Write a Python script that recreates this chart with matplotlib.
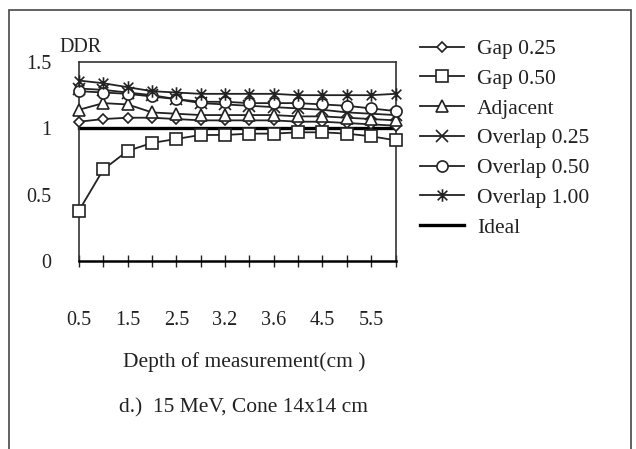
import numpy as np
import matplotlib
matplotlib.use('Agg')
import matplotlib.pyplot as plt
from matplotlib.path import Path
from matplotlib.patches import Rectangle

plt.rcParams['font.family'] = ['Liberation Serif', 'DejaVu Serif']

# depth of measurement (cm), category axis
depths = ["0.5", "1", "1.5", "2", "2.5", "3", "3.2", "3.4", "3.6", "4", "4.5", "5", "5.5", "6"]

gap_025 = [1.05, 1.07, 1.08, 1.08, 1.07, 1.06, 1.06, 1.06, 1.06, 1.05, 1.05, 1.04, 1.03, 1.02]
gap_050 = [0.38, 0.69, 0.83, 0.89, 0.92, 0.95, 0.95, 0.96, 0.96, 0.97, 0.97, 0.96, 0.94, 0.91]
adjacent = [1.14, 1.19, 1.18, 1.12, 1.11, 1.10, 1.10, 1.10, 1.10, 1.09, 1.09, 1.08, 1.07, 1.06]
overlap_025 = [1.30, 1.29, 1.27, 1.25, 1.22, 1.19, 1.18, 1.17, 1.16, 1.15, 1.14, 1.12, 1.11, 1.10]
overlap_050 = [1.28, 1.27, 1.26, 1.24, 1.22, 1.20, 1.20, 1.19, 1.19, 1.19, 1.18, 1.17, 1.15, 1.13]
overlap_100 = [1.36, 1.34, 1.31, 1.28, 1.27, 1.26, 1.26, 1.26, 1.26, 1.25, 1.25, 1.25, 1.25, 1.26]
ideal = [1.0] * len(depths)

# excel style star: x with a vertical bar
star = Path([(-1, -1), (1, 1), (-1, 1), (1, -1), (0, -1.3), (0, 1.3)],
            [Path.MOVETO, Path.LINETO, Path.MOVETO, Path.LINETO, Path.MOVETO, Path.LINETO])

series = [
    ("Gap 0.25", gap_025, 'D', 5.5),
    ("Gap 0.50", gap_050, 's', 8),
    ("Adjacent", adjacent, '^', 8),
    ("Overlap 0.25", overlap_025, 'x', 8),
    ("Overlap 0.50", overlap_050, 'o', 8),
    ("Overlap 1.00", overlap_100, star, 9),
]

ink = '#222222'
fs = 15.5

fig = plt.figure(figsize=(6.36, 4.49), dpi=100)
ax = fig.add_axes([79 / 636, 1 - 261 / 449, (395.5 - 79) / 636, (261 - 62) / 449])

x = np.arange(len(depths))
for label, vals, m, ms in series:
    ax.plot(x, vals, color=ink, lw=1.3, marker=m, ms=ms, mfc='white',
            mec=ink, mew=1.2, label=label, clip_on=False, zorder=3)
ax.plot(x, ideal, color='black', lw=2.4, label="Ideal", clip_on=False, zorder=2)

ax.set_xlim(0, len(depths) - 1)
ax.set_ylim(0, 1.5)
ax.set_yticks([0, 0.5, 1, 1.5])
ax.set_yticklabels(["0", "0.5", "1", "1.5"])
ax.set_xticks(x)
ax.set_xticklabels([d if i % 2 == 0 else "" for i, d in enumerate(depths)])
ax.tick_params(axis='x', direction='inout', length=8, width=1, color=ink,
               pad=32, labelsize=14.5, labelcolor=ink)
ax.tick_params(axis='y', length=0, pad=20, labelsize=14.5, labelcolor=ink)
for s in ['top', 'right', 'left']:
    ax.spines[s].set_color('#333333')
    ax.spines[s].set_linewidth(1.2)
ax.spines['bottom'].set_color('black')
ax.spines['bottom'].set_linewidth(1.8)

fig.text(59 / 636, 1 - 48 / 449, "DDR", fontsize=14.5, color=ink, va='center', ha='left')
fig.text(244 / 636, 1 - 362 / 449, "Depth of measurement(cm )", fontsize=fs,
         color=ink, ha='center', va='center')
fig.text(243 / 636, 1 - 408 / 449, "d.)  15 MeV, Cone 14x14 cm", fontsize=fs,
         color=ink, ha='center', va='center')

ax.legend(loc='upper left', bbox_to_anchor=(420 / 636, 1 - 39 / 449),
          bbox_transform=fig.transFigure, frameon=False, fontsize=fs,
          handlelength=2.05, handletextpad=0.6, labelspacing=0.45,
          borderpad=0, borderaxespad=0, labelcolor=ink)

# outer frame round the whole chart
fig.add_artist(Rectangle((9 / 636, -0.05), (631 - 9) / 636, 1.05 - 10 / 449,
                         transform=fig.transFigure, fill=False,
                         edgecolor='#555555', lw=1.3))

fig.savefig('out.png', dpi=100)
